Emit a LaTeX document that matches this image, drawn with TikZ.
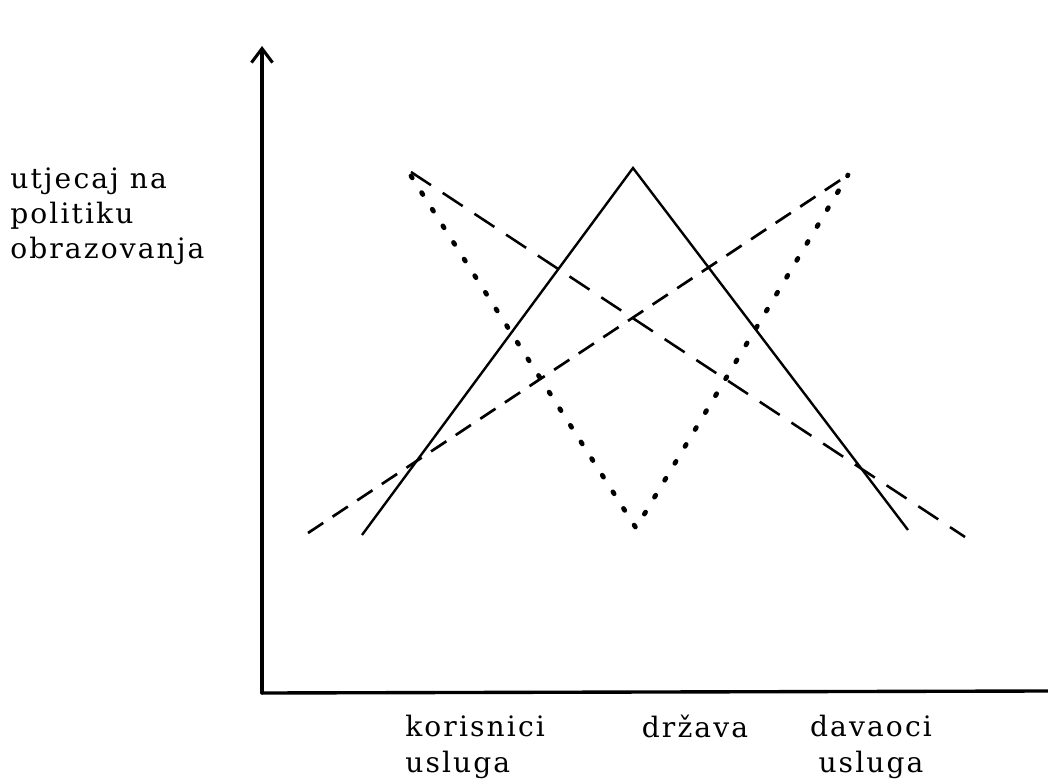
\documentclass[tikz,border=0pt]{standalone}
\usepackage{fontspec}
\newfontfamily\labelfont[LetterSpace=7.5]{DejaVu Serif}
\usetikzlibrary{arrows.meta, positioning}

\begin{document}
\begin{tikzpicture}[x=0.025cm, y=-0.025cm, font=\labelfont\fontsize{20}{25}\selectfont,
    axisline/.style={line width=2.4pt, line cap=round},
    solidline/.style={line width=1.7pt, line join=miter},
    dottedline/.style={line width=3.4pt, line cap=round, dash pattern=on 1.6pt off 12.43pt},
    longdash/.style={line width=1.8pt, dash pattern=on 17pt off 10pt},
    shortdash/.style={line width=1.9pt, dash pattern=on 13pt off 8pt}]
      \useasboundingbox (0,0) rectangle (1048,781);

      % Axes
      \coordinate (origin) at (262,693);
      \coordinate (ytop) at (262,46);
      \coordinate (xend) at (1048,691);
      \draw[axisline, -{Straight Barb[length=10pt, width=15pt, line width=2.2pt]}] (origin) -- (ytop);
      \draw[axisline] (origin) -- (xend);

      % Labels
      \node [align=left, inner sep=0pt, anchor=west] (ylabel) at (10,216) {utjecaj na\\politiku\\obrazovanja};
      \node [align=left, inner sep=0pt, anchor=west] (users) at (405,747) {korisnici\\usluga};
      \node [inner sep=0pt, anchor=base] (state) at (695,737) {država};
      \node [align=center, inner sep=0pt] (providers) at (871,747) {davaoci\\usluga};

      % Curve points
      \coordinate (sa) at (362,535);
      \coordinate (sb) at (633,168);
      \coordinate (sc) at (908,530);
      \coordinate (da) at (411,176);
      \coordinate (db) at (636,528);
      \coordinate (dc) at (848,175);
      \coordinate (la) at (411,172);
      \coordinate (lb) at (965,537);
      \coordinate (ka) at (308,533);
      \coordinate (kb) at (848,175);

      % Paths
      \draw[solidline] (sa) -- (sb) -- (sc);
      \draw[dottedline] (da) -- (db) -- (dc);
      \draw[longdash] (la) -- (lb);
      \draw[shortdash] (ka) -- (kb);
    \end{tikzpicture}
\end{document}
